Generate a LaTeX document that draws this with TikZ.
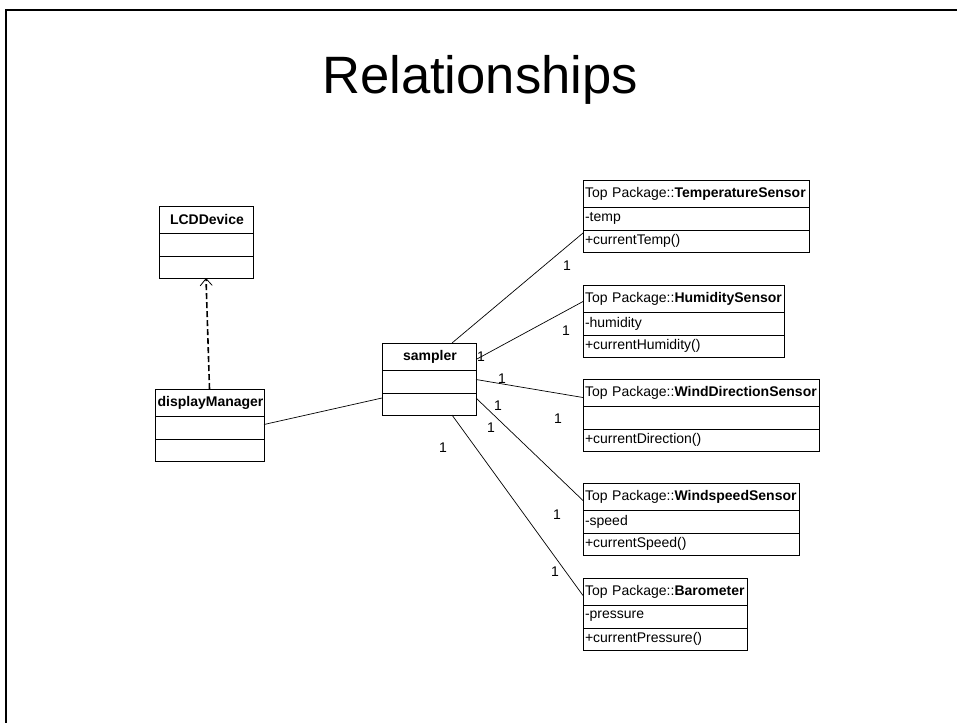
\documentclass[tikz,border=0pt]{standalone}
\usepackage{fontspec}
\setmainfont{Liberation Sans}
\usetikzlibrary{positioning}
\usetikzlibrary{arrows.meta}
\tikzset{part/.style = {draw, line width=0.9pt, outer sep=0pt, inner xsep=0pt, inner ysep=0pt,
                        text width=#1, align=left, font=\fontsize{14}{16}\selectfont}}
\tikzset{ctop/.style = {part=#1, minimum height=27, anchor=north west}}
\tikzset{cmid/.style = {part=#1, minimum height=23}}
\tikzset{cbot/.style = {part=#1, minimum height=22}}
\tikzset{mult/.style = {inner sep=0pt, font=\fontsize{14}{16}\selectfont}}
\tikzset{assoc/.style = {line width=0.7pt}}
\tikzset{depend/.style = {line width=1.6pt, dash pattern=on 6pt off 3pt,
                          -{Straight Barb[length=7pt, width=12pt, line width=0.8pt]}}}
\newcommand\umlclass[8][left]{%
  \node[ctop=#5, align=#1] (#2) at (#3,#4) {\hspace*{2pt}\mbox{#6}};
  \node[cmid=#5, below=0pt of #2] (#2-a) {\hspace*{2pt}#7};
  \node[cbot=#5, below=0pt of #2-a] (#2-o) {\hspace*{2pt}#8};
}

\begin{document}
\begin{tikzpicture}[x=1pt, y=-1pt]
    \useasboundingbox (0,0) rectangle (957,723);
    \draw[line width=2.2pt] (957,10) -- (6,10) -- (6,723);
    \node[anchor=base, font=\fontsize{52.6}{60}\selectfont] (title) at (480,93) {Relationships};

    \umlclass[center]{lcd}{159}{206}{94pt}{\textbf{LCDDevice}}{}{}
    \umlclass[center]{dm}{155}{389}{109pt}{\textbf{displayManager}}{}{}
    \umlclass[center]{samp}{382}{343}{94pt}{\textbf{sampler}}{}{}
    \umlclass{temp}{583}{180}{226pt}{Top Package::\textbf{TemperatureSensor}}{-temp}{+currentTemp()}
    \umlclass{hum}{583}{285}{201pt}{Top Package::\textbf{HumiditySensor}}{-humidity}{+currentHumidity()}
    \umlclass{wdir}{583}{379}{236pt}{Top Package::\textbf{WindDirectionSensor}}{}{+currentDirection()}
    \umlclass{wspd}{583}{483}{216pt}{Top Package::\textbf{WindspeedSensor}}{-speed}{+currentSpeed()}
    \umlclass{baro}{583}{578}{164pt}{Top Package::\textbf{Barometer}}{-pressure}{+currentPressure()}

    \draw[depend] (dm.north) -- (lcd-o.south);
    \draw[assoc] ([yshift=3pt]dm-a.east) -- ([yshift=-5pt]samp-o.north west);
    \draw[assoc] ([xshift=23pt]samp.north) -- ([yshift=-3pt]temp-a.south west);
    \draw[assoc] ([yshift=-3pt]samp.east) -- ([yshift=-3pt]hum.west);
    \draw[assoc] ([yshift=2pt]samp-a.east) -- ([yshift=-5pt]wdir.west);
    \draw[assoc] ([yshift=-5pt]samp-o.north east) -- ([yshift=-4pt]wspd.west);
    \draw[assoc] ([xshift=23pt]samp-o.south) -- ([yshift=-4pt]baro.west);

    \node[mult] (m1) at (567,266) {1};
    \node[mult] (m2) at (481,357) {1};
    \node[mult] (m3) at (566,331) {1};
    \node[mult] (m4) at (502,379) {1};
    \node[mult] (m5) at (558,419) {1};
    \node[mult] (m6) at (498,406) {1};
    \node[mult] (m7) at (491,428) {1};
    \node[mult] (m8) at (443,448) {1};
    \node[mult] (m9) at (557,515) {1};
    \node[mult] (m10) at (555,572) {1};
\end{tikzpicture}
\end{document}
